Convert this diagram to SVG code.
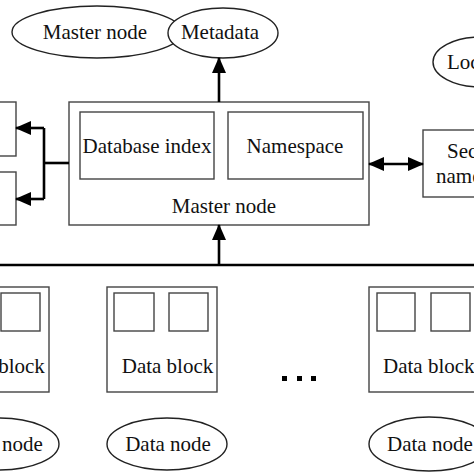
<svg xmlns="http://www.w3.org/2000/svg" width="474" height="474" viewBox="0 0 474 474">
<style>
text{font-family:"Liberation Serif","Times New Roman",serif;font-size:21px;fill:#111}
.box{fill:#fff;stroke:#444;stroke-width:1.4}
.ell{fill:#fff;stroke:#222;stroke-width:1.4}
.con{fill:none;stroke:#000;stroke-width:2.6}
</style>
<defs>
<marker id="ah" markerUnits="userSpaceOnUse" markerWidth="16" markerHeight="16" viewBox="0 0 16 16" refX="15" refY="8" orient="auto-start-reverse">
<path d="M0,1 L16,8 L0,15 Z" fill="#000"/>
</marker>
</defs>
<rect width="474" height="474" fill="#fff"/>
<g id="master-node-ellipse"><ellipse class="ell" cx="97" cy="32" rx="85" ry="26"/><text x="95" y="39" text-anchor="middle">Master node</text></g>
<g id="metadata"><ellipse class="ell" cx="223" cy="33" rx="55" ry="25"/><text x="220" y="39" text-anchor="middle">Metadata</text></g>
<g id="loc"><ellipse class="ell" cx="480" cy="62" rx="47" ry="25"/><text x="447" y="69">Location</text></g>
<g id="master-node"><rect class="box" x="69" y="102" width="300" height="123"/><text x="224" y="213" text-anchor="middle">Master node</text></g>
<g id="database-index"><rect class="box" x="80" y="112" width="134" height="67"/><text x="147" y="153" text-anchor="middle">Database index</text></g>
<g id="namespace"><rect class="box" x="228" y="112" width="135" height="67"/><text x="295" y="153" text-anchor="middle">Namespace</text></g>
<g id="left-box-1"><rect class="box" x="-10" y="102" width="26" height="54"/></g>
<g id="left-box-2"><rect class="box" x="-10" y="172" width="26" height="53"/></g>
<g id="secondary-namenode"><rect class="box" x="423" y="130" width="70" height="67"/><text x="447" y="158">Secondary</text><text x="436" y="183">namenode</text></g>
<g id="data-block-1"><rect class="box" x="-60" y="287" width="109" height="105"/><rect class="box" x="-54" y="293" width="40" height="38"/><rect class="box" x="1" y="293" width="39" height="38"/><text x="-1" y="373" text-anchor="middle">Data block</text></g>
<g id="data-block-2"><rect class="box" x="107" y="287" width="110" height="105"/><rect class="box" x="114" y="293" width="40" height="38"/><rect class="box" x="169" y="293" width="39" height="38"/><text x="167.5" y="373" text-anchor="middle">Data block</text></g>
<g id="data-block-3"><rect class="box" x="369" y="287" width="115" height="105"/><rect class="box" x="377" y="293" width="38" height="38"/><rect class="box" x="431" y="293" width="39" height="38"/><text x="383" y="373">Data block</text></g>
<g id="data-node-1"><ellipse class="ell" cx="-1" cy="444" rx="60" ry="26"/><text x="0" y="451" text-anchor="middle">Data node</text></g>
<g id="data-node-2"><ellipse class="ell" cx="167" cy="444" rx="60" ry="26"/><text x="168" y="451" text-anchor="middle">Data node</text></g>
<g id="data-node-3"><ellipse class="ell" cx="429" cy="444" rx="60" ry="27"/><text x="387" y="451">Data node</text></g>
<g id="ellipsis"><rect x="282" y="376" width="5" height="5" fill="#000"/><rect x="297" y="376" width="5" height="5" fill="#000"/><rect x="311" y="376" width="5" height="5" fill="#000"/></g>
<g id="connectors">
<line class="con" x1="219" y1="102" x2="219" y2="58" marker-end="url(#ah)"/>
<line class="con" x1="219" y1="265" x2="219" y2="225" marker-end="url(#ah)"/>
<line class="con" x1="0" y1="265" x2="474" y2="265" stroke-width="2.2"/>
<line class="con" x1="69" y1="163" x2="44" y2="163"/>
<line class="con" x1="44" y1="128" x2="44" y2="199"/>
<line class="con" x1="44" y1="128" x2="16" y2="128" marker-end="url(#ah)"/>
<line class="con" x1="44" y1="199" x2="16" y2="199" marker-end="url(#ah)"/>
<line class="con" x1="369" y1="164" x2="423" y2="164" marker-start="url(#ah)" marker-end="url(#ah)"/>
</g>
</svg>
